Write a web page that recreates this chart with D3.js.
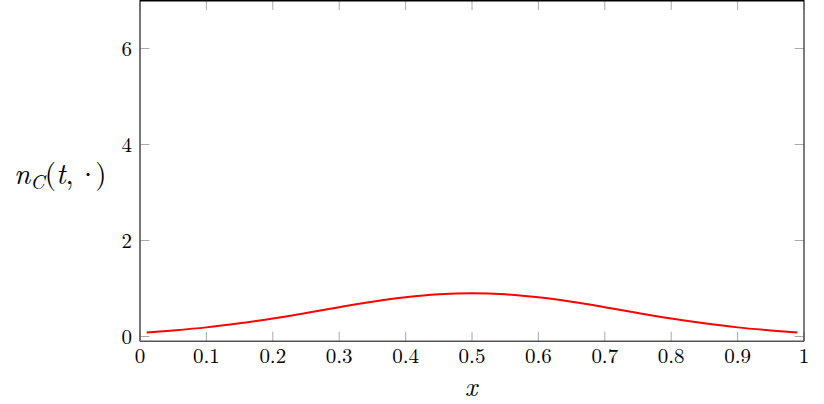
<!DOCTYPE html>
<html><head><meta charset="utf-8">
<script src="https://cdn.jsdelivr.net/npm/d3@7"></script>
<style>body{margin:0;background:#fff}svg{display:block}</style>
</head><body>
<script>
const xs = [0.01,0.05,0.1,0.15,0.2,0.25,0.3,0.35,0.4,0.45,0.5,0.55,0.6,0.65,0.7,0.75,0.8,0.85,0.9,0.95,0.99];
const ys = [0.085,0.127,0.19,0.275,0.375,0.49,0.61,0.723,0.816,0.878,0.9,0.878,0.816,0.723,0.61,0.49,0.375,0.275,0.19,0.127,0.085];
const xTicks = [0,0.1,0.2,0.3,0.4,0.5,0.6,0.7,0.8,0.9,1];
const xTickLabels = ["0","0.1","0.2","0.3","0.4","0.5","0.6","0.7","0.8","0.9","1"];
const yTicks = [0,2,4,6];

const W=824,H=404;
const L=140,R=804,T=0.5,B=341.3;
const svg=d3.select("body").append("svg").attr("width",W).attr("height",H);
const x=d3.scaleLinear().domain([0,1]).range([L,R]);
const y=d3.scaleLinear().domain([-0.1,7]).range([B,T]);
const font="'Latin Modern Roman','Latin Modern Math',serif";

// ticks (inside, mirrored)
const tk=svg.append("g").attr("stroke","#aaa").attr("stroke-width",1);
xTicks.forEach(v=>{
  tk.append("line").attr("x1",x(v)).attr("x2",x(v)).attr("y1",B).attr("y2",B-9.5);
  tk.append("line").attr("x1",x(v)).attr("x2",x(v)).attr("y1",T).attr("y2",T+9.5);
});
yTicks.forEach(v=>{
  tk.append("line").attr("x1",L).attr("x2",L+9.5).attr("y1",y(v)).attr("y2",y(v));
  tk.append("line").attr("x1",R).attr("x2",R-9.5).attr("y1",y(v)).attr("y2",y(v));
});

// curve
svg.append("path").datum(xs.map((v,i)=>[v,ys[i]]))
  .attr("fill","none").attr("stroke","#ff0000").attr("stroke-width",2)
  .attr("d",d3.line().x(d=>x(d[0])).y(d=>y(d[1])).curve(d3.curveMonotoneX));

// frame
const fr=svg.append("g").attr("fill","none");
fr.append("line").attr("x1",L).attr("x2",L).attr("y1",0).attr("y2",B).attr("stroke","#555").attr("stroke-width",1.6);
fr.append("line").attr("x1",L).attr("x2",R).attr("y1",B).attr("y2",B).attr("stroke","#555").attr("stroke-width",1.6);
fr.append("line").attr("x1",R).attr("x2",R).attr("y1",0).attr("y2",B).attr("stroke","#444").attr("stroke-width",1.4);
fr.append("line").attr("x1",L).attr("x2",R).attr("y1",0.7).attr("y2",0.7).attr("stroke","#000").attr("stroke-width",1.6);

// tick labels
svg.append("g").selectAll("text").data(xTicks).join("text")
  .attr("x",d=>x(d)).attr("y",B+22).attr("text-anchor","middle")
  .attr("font-family",font).attr("font-size",21).attr("fill","#000")
  .text((d,i)=>xTickLabels[i]);
svg.append("g").selectAll("text").data(yTicks).join("text")
  .attr("x",L-8).attr("y",d=>y(d)+7).attr("text-anchor","end")
  .attr("font-family",font).attr("font-size",21).attr("fill","#000")
  .text(d=>d);

// axis labels
svg.append("text").attr("x",(L+R)/2-1).attr("y",396).attr("text-anchor","middle")
  .attr("font-family",font).attr("font-size",27).attr("font-style","italic").text("x");
const yl=svg.append("text").attr("x",14).attr("y",184).attr("font-family",font).attr("font-size",29);
yl.append("tspan").attr("font-style","italic").text("n");
yl.append("tspan").attr("font-style","italic").attr("font-size",20).attr("dy",5).text("C");
yl.append("tspan").attr("dy",-5).text("(");
yl.append("tspan").attr("font-style","italic").text("t");
yl.append("tspan").text(",");
yl.append("tspan").attr("dx",3).attr("letter-spacing","-4px").text("·)");
</script>
</body></html>
